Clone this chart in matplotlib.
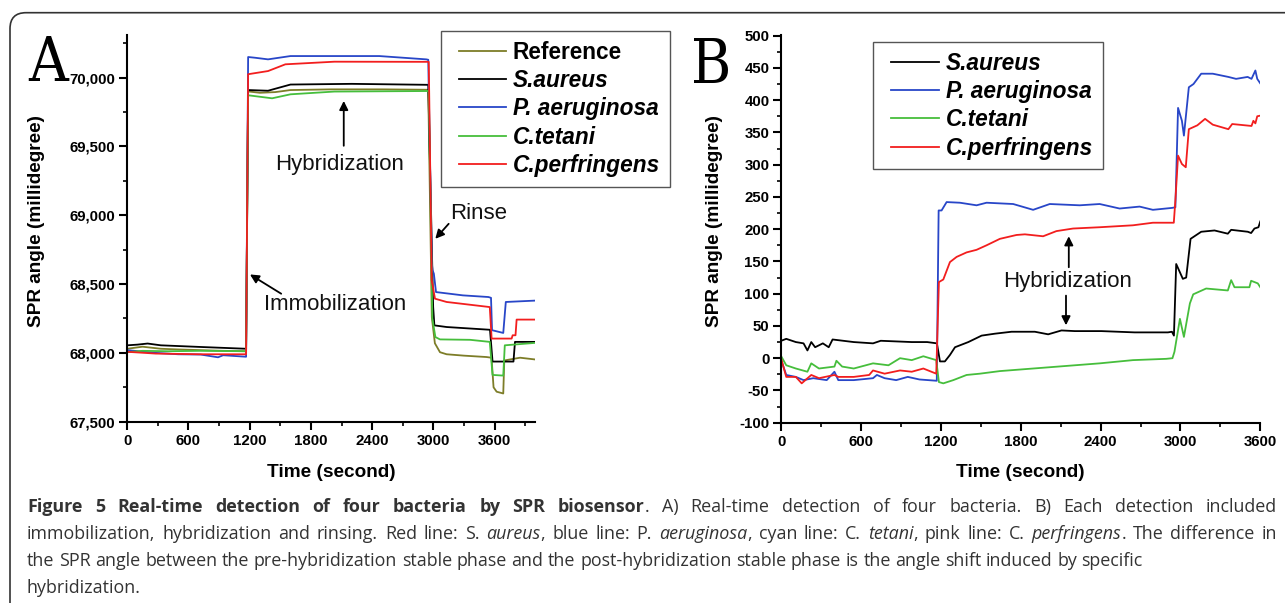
import matplotlib
matplotlib.use('Agg')
import matplotlib.pyplot as plt
from matplotlib import font_manager as fm
from matplotlib.font_manager import FontProperties
from matplotlib.ticker import MultipleLocator, FuncFormatter
from matplotlib.patches import FancyBboxPatch
from matplotlib.transforms import IdentityTransform
from matplotlib.legend_handler import HandlerLine2D
from matplotlib.lines import Line2D

W, H = 1285, 603

# ---------------- Panel A data (time s, SPR angle millidegree) ----------------
a_ref_t = [0, 150, 330, 500, 720, 940, 1165, 1185, 1300, 1450, 1600, 2000, 2500, 2950,
           2985, 3015, 3065, 3130, 3300, 3520, 3570, 3590, 3620, 3685, 3695, 3850, 4000]
a_ref_v = [68030, 68045, 68030, 68025, 68020, 68015, 68012, 69900, 69890, 69895, 69910, 69915, 69915, 69912,
           68260, 68070, 68005, 67990, 67980, 67970, 67965, 67750, 67718, 67705, 67945, 67965, 67952]

a_sa_t = [0, 100, 200, 330, 720, 1165, 1185, 1380, 1600, 2200, 2950, 2998, 3010, 3130,
          3555, 3580, 3785, 3800, 4000]
a_sa_v = [68055, 68060, 68068, 68055, 68043, 68030, 69910, 69905, 69950, 69955, 69948, 68335, 68200, 68188,
          68168, 67937, 67937, 68080, 68080]

a_pa_t = [0, 280, 500, 720, 890, 940, 1165, 1185, 1250, 1380, 1600, 2470, 2930, 2950,
          2985, 2993, 3005, 3026, 3290, 3540, 3565, 3575, 3685, 3710, 4000]
a_pa_v = [68020, 68000, 67990, 67988, 67968, 67983, 67972, 70150, 70145, 70133, 70157, 70157, 70133, 70130,
          68650, 68600, 68575, 68442, 68418, 68406, 68400, 68165, 68145, 68370, 68380]

a_ct_t = [0, 150, 400, 720, 1165, 1185, 1420, 1600, 2030, 2955, 2990, 3020, 3065, 3360,
          3553, 3580, 3685, 3700, 4000]
a_ct_v = [68005, 68015, 68012, 68015, 68012, 69872, 69850, 69879, 69899, 69903, 68250, 68115, 68098, 68095,
          68080, 67840, 67835, 68055, 68073]

a_cp_t = [0, 280, 720, 1165, 1185, 1380, 1550, 2030, 2955, 2984, 3016, 3130, 3553, 3571,
          3767, 3777, 3805, 3816, 4000]
a_cp_v = [68008, 67995, 67990, 67990, 70025, 70048, 70097, 70116, 70115, 68527, 68394, 68370, 68333, 68104,
          68104, 68128, 68128, 68242, 68242]

a_labels = ['Reference', 'S.aureus', 'P. aeruginosa', 'C.tetani', 'C.perfringens']

# ---------------- Panel B data (time s, SPR angle shift millidegree) ----------------
b_sa_t = [0, 38, 110, 168, 197, 226, 255, 313, 357, 386, 545, 690, 748, 981, 1097, 1170,
          1193, 1230, 1268, 1306, 1406, 1506, 1606, 1731, 1906, 2006, 2106, 2206, 2406, 2656,
          2906, 2936, 2951, 2968, 3018, 3043, 3076, 3156, 3256, 3356, 3381, 3506, 3531, 3556,
          3586, 3600]
b_sa_v = [27, 30, 25, 23, 12, 25, 17, 23, 17, 29, 25, 23, 27, 25, 25, 23,
          -5, -5, 5, 17, 25, 35, 38, 41, 41, 37, 43, 42, 42, 40,
          40, 41, 35, 146, 123, 125, 185, 196, 198, 193, 199, 196, 194, 201,
          203, 212]

b_pa_t = [0, 38, 110, 168, 241, 342, 400, 429, 545, 690, 719, 777, 864, 951, 1039, 1169,
          1183, 1205, 1243, 1343, 1468, 1543, 1743, 1893, 2018, 2243, 2393, 2543, 2693, 2793,
          2938, 2962, 2982, 3011, 3026, 3063, 3098, 3156, 3243, 3360, 3418, 3505, 3534, 3563,
          3577, 3600]
b_pa_v = [-3, -26, -29, -34, -31, -34, -21, -34, -34, -31, -26, -31, -34, -29, -33, -35,
          229, 229, 242, 241, 237, 241, 239, 230, 239, 237, 239, 232, 235, 230,
          233, 234, 388, 368, 345, 420, 425, 441, 441, 436, 433, 436, 433, 446,
          433, 426]

b_ct_t = [0, 38, 110, 197, 226, 284, 400, 415, 458, 545, 690, 806, 893, 981, 1068, 1165,
          1185, 1218, 1293, 1393, 1493, 1643, 1893, 2143, 2393, 2643, 2768, 2893, 2940,
          2955, 2996, 3026, 3071, 3096, 3193, 3356, 3381, 3406, 3518, 3531, 3581, 3600]
b_ct_v = [3, -11, -16, -21, -8, -16, -13, -4, -13, -16, -8, -11, 0, -3, 3, -3,
          -37, -39, -34, -26, -24, -20, -16, -12, -8, -3, -2, -1, 0,
          10, 61, 33, 85, 99, 108, 105, 121, 110, 110, 120, 116, 110]

b_cp_t = [0, 38, 110, 154, 226, 284, 400, 429, 545, 661, 690, 777, 893, 981, 1068, 1165,
          1185, 1218, 1268, 1318, 1393, 1468, 1543, 1643, 1768, 1831, 1968, 2068, 2193, 2393,
          2643, 2793, 2950, 2962, 2982, 3011, 3040, 3063, 3127, 3185, 3243, 3360, 3389, 3534,
          3548, 3563, 3577, 3600]
b_cp_v = [-1, -29, -29, -39, -26, -31, -26, -29, -29, -26, -19, -24, -19, -21, -16, -24,
          118, 122, 149, 157, 164, 168, 175, 185, 191, 192, 189, 197, 201, 203,
          206, 210, 210, 245, 314, 301, 296, 355, 361, 371, 362, 355, 363, 360,
          368, 364, 375, 376]

b_labels = ['S.aureus', 'P. aeruginosa', 'C.tetani', 'C.perfringens']

c_olive, c_black, c_blue, c_green, c_red = '#7d7d28', '#000000', '#2846c8', '#46be3c', '#f21e1e'

# ---------------- style ----------------
plt.rcParams['font.family'] = ['Liberation Sans', 'DejaVu Sans']
plt.rcParams['font.weight'] = 'bold'

fig = plt.figure(figsize=(W / 100, H / 100), dpi=100)
fig.patch.set_facecolor('white')

axA = fig.add_axes([127.2 / W, 181.3 / H, 408.2 / W, 386.7 / H])
axB = fig.add_axes([781.2 / W, 180.3 / H, 479.1 / W, 387.7 / H])

lw = 1.3
axA.plot(a_ref_t, a_ref_v, color=c_olive, lw=lw, label=a_labels[0])
axA.plot(a_sa_t, a_sa_v, color=c_black, lw=lw, label=a_labels[1])
axA.plot(a_pa_t, a_pa_v, color=c_blue, lw=lw, label=a_labels[2])
axA.plot(a_ct_t, a_ct_v, color=c_green, lw=lw, label=a_labels[3])
axA.plot(a_cp_t, a_cp_v, color=c_red, lw=lw, label=a_labels[4])

axB.plot(b_sa_t, b_sa_v, color=c_black, lw=lw, label=b_labels[0])
axB.plot(b_pa_t, b_pa_v, color=c_blue, lw=lw, label=b_labels[1])
axB.plot(b_ct_t, b_ct_v, color=c_green, lw=lw, label=b_labels[2])
axB.plot(b_cp_t, b_cp_v, color=c_red, lw=lw, label=b_labels[3])

axA.set_xlim(0, 4000)
axA.set_ylim(67500, 70310)
axA.xaxis.set_major_locator(MultipleLocator(600))
axA.xaxis.set_minor_locator(MultipleLocator(300))
axA.yaxis.set_major_locator(MultipleLocator(500))
axA.yaxis.set_minor_locator(MultipleLocator(250))
axA.yaxis.set_major_formatter(FuncFormatter(lambda v, p: f'{v:,.0f}'))

axB.set_xlim(0, 3600)
axB.set_ylim(-100, 501)
axB.xaxis.set_major_locator(MultipleLocator(600))
axB.xaxis.set_minor_locator(MultipleLocator(300))
axB.yaxis.set_major_locator(MultipleLocator(50))
axB.yaxis.set_minor_locator(MultipleLocator(25))
axB.yaxis.set_major_formatter(FuncFormatter(lambda v, p: f'{v:.0f}'))

for ax in (axA, axB):
    for s in ('top', 'right'):
        ax.spines[s].set_visible(False)
    for s in ('left', 'bottom'):
        ax.spines[s].set_linewidth(1.5)
    ax.tick_params(which='major', direction='out', length=5.5, width=1.5, labelsize=10.8, pad=3)
    ax.tick_params(which='minor', direction='out', length=3, width=1.2)
    ax.set_xlabel('Time (second)', fontsize=13.7, fontweight='bold', va='top')
    ax.set_ylabel('SPR angle (millidegree)', fontsize=13.7, fontweight='bold')
    ax.set_facecolor('none')

axA.xaxis.set_label_coords(0.5, -0.109)
axB.xaxis.set_label_coords(0.5, -0.106)
axA.yaxis.set_label_coords(-0.2024, 0.52)
axB.yaxis.set_label_coords(-0.1225, 0.52)


class ShiftedLine(HandlerLine2D):
    """Legend line handle drawn with a small blank gap on its left side."""
    def __init__(self, shift, **kw):
        super().__init__(**kw)
        self.shift = shift

    def create_artists(self, legend, orig_handle, xdescent, ydescent, width, height, fontsize, trans):
        return super().create_artists(legend, orig_handle, xdescent - self.shift, ydescent,
                                      width - self.shift, height, fontsize, trans)


leg_fp = FontProperties(family='Liberation Sans', weight='bold', style='italic', size=16.3)
leg_kw = dict(prop=leg_fp, frameon=True, fancybox=False, edgecolor='#555555', framealpha=1,
              borderpad=0.42, labelspacing=0.24, handletextpad=0.3, borderaxespad=0,
              bbox_transform=fig.transFigure, loc='upper left',
              handler_map={Line2D: ShiftedLine(shift=6.0)})
legA = axA.legend(bbox_to_anchor=(441 / W, 1 - 31 / H), handlelength=2.45, **leg_kw)
legA.get_frame().set_linewidth(1.0)
legA.get_texts()[0].set_fontstyle('normal')
legB = axB.legend(bbox_to_anchor=(873 / W, 1 - 42 / H), handlelength=2.5, **leg_kw)
legB.get_frame().set_linewidth(1.0)

arrow = dict(arrowstyle='-|>', color='black', lw=1.3, mutation_scale=13, shrinkA=0, shrinkB=0)
ann_kw = dict(fontsize=16, fontweight='normal', color='#111111')
axA.annotate('', xy=(2122, 69831), xytext=(2122, 69505), arrowprops=arrow)
axA.text(2078, 69372, 'Hybridization', ha='center', va='center', **ann_kw)
axA.annotate('', xy=(3019, 68829), xytext=(3150, 68938), arrowprops=arrow)
axA.text(3163, 69015, 'Rinse', ha='left', va='center', **ann_kw)
axA.annotate('', xy=(1203, 68570), xytext=(1509, 68430), arrowprops=arrow)
axA.text(2034, 68353, 'Immobilization', ha='center', va='center', **ann_kw)

axB.annotate('', xy=(2161, 189), xytext=(2161, 141), arrowprops=arrow)
axB.annotate('', xy=(2140, 51), xytext=(2140, 97), arrowprops=arrow)
axB.text(2155, 119, 'Hybridization', ha='center', va='center', **ann_kw)

# ---------------- panel letters ----------------
serif_fname = None
for f in fm.fontManager.ttflist:
    if 'Serif' in f.name and str(f.stretch).lower() in ('condensed', 'semi-condensed', 'extra-condensed') \
            and str(f.style) == 'normal' and str(f.weight) in ('400', 'normal', 'regular', 'book'):
        serif_fname = f.fname
        break
if serif_fname:
    let_fp = FontProperties(fname=serif_fname, size=44)
else:
    let_fp = FontProperties(family='Liberation Serif', weight='normal', size=39)
fig.text(28 / W, 1 - 81 / H, 'A', fontproperties=let_fp, ha='left', va='baseline', color='black')
fig.text(691 / W, 1 - 83.3 / H, 'B', fontproperties=let_fp, ha='left', va='baseline', color='black')

# ---------------- frame ----------------
frame = FancyBboxPatch((10, -30), 1320, H - 12.7 + 30, boxstyle='round,pad=0,rounding_size=16',
                       transform=IdentityTransform(), facecolor='none', edgecolor='#333333', lw=1.2,
                       clip_on=False)
fig.add_artist(frame)

# ---------------- caption ----------------
cap_size = 12.9
cap_col = '#333333'
cap_fp = {
    'r': FontProperties(family='Open Sans', weight='normal', style='normal', size=cap_size),
    'b': FontProperties(family='Open Sans', weight='bold', style='normal', size=cap_size),
    'i': FontProperties(family='Open Sans', weight='normal', style='italic', size=cap_size),
}


def words_of(segments):
    words, cur = [], []
    for txt, st in segments:
        parts = txt.split(' ')
        for k, p in enumerate(parts):
            if k > 0:
                if cur:
                    words.append(cur)
                cur = []
            if p:
                cur.append((p, st))
    if cur:
        words.append(cur)
    return words


cap_lines = [
    ([('Figure 5 Real-time detection of four bacteria by SPR biosensor', 'b'),
      ('. A) Real-time detection of four bacteria. B) Each detection included', 'r')], True),
    ([('immobilization, hybridization and rinsing. Red line: S. ', 'r'), ('aureus', 'i'),
      (', blue line: P. ', 'r'), ('aeruginosa', 'i'), (', cyan line: C. ', 'r'), ('tetani', 'i'),
      (', pink line: C. ', 'r'), ('perfringens', 'i'), ('. The difference in', 'r')], True),
    ([('the SPR angle between the pre-hybridization stable phase and the post-hybridization stable phase '
       'is the angle shift induced by specific', 'r')], False),
    ([('hybridization.', 'r')], False),
]
cap_base = [511.7, 539.0, 566.0, 593.0]
x_left, x_right = 27.0, 1277.0

renderer = fig.canvas.get_renderer()


def twidth(s, fp):
    t = fig.text(0, 0, s, fontproperties=fp, transform=IdentityTransform())
    w = t.get_window_extent(renderer).width
    t.remove()
    return w


space_w = twidth('x x', cap_fp['r']) - twidth('xx', cap_fp['r'])

for (segs, justify), yb in zip(cap_lines, cap_base):
    words = words_of(segs)
    built, widths = [], []
    for w in words:
        items, tot = [], 0.0
        for txt, st in w:
            t = fig.text(0, 0, txt, fontproperties=cap_fp[st], color=cap_col,
                         transform=IdentityTransform(), ha='left', va='baseline')
            ww = t.get_window_extent(renderer).width
            items.append((t, ww))
            tot += ww
        built.append(items)
        widths.append(tot)
    if justify and len(words) > 1:
        gap = (x_right - x_left - sum(widths)) / (len(words) - 1)
    else:
        gap = space_w
    x = x_left
    for items in built:
        for t, ww in items:
            t.set_position((x, H - yb))
            x += ww
        x += gap

fig.savefig('out.png', dpi=100, facecolor='white')
